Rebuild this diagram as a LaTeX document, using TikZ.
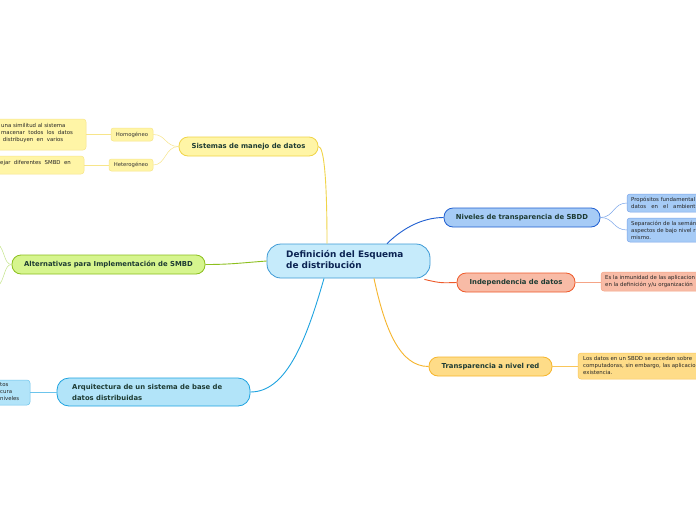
\documentclass[tikz,border=0pt]{standalone}
\usepackage{fontspec}
\setmainfont{DejaVu Sans}
\definecolor{txt}{HTML}{1D3B33}
\definecolor{navy}{HTML}{0B2352}
\definecolor{cenF}{HTML}{C6EBFB}\definecolor{cenD}{HTML}{3D9AD6}
\definecolor{yelF}{HTML}{FFF5A6}\definecolor{yelD}{HTML}{F0D448}\definecolor{yelL}{HTML}{F7E58A}
\definecolor{bluF}{HTML}{A6CBF6}\definecolor{bluD}{HTML}{1F5FD1}\definecolor{bluL}{HTML}{7AA5EA}
\definecolor{oraF}{HTML}{F8BBA6}\definecolor{oraD}{HTML}{EE5A2A}\definecolor{oraL}{HTML}{F5A486}
\definecolor{golF}{HTML}{FEDC88}\definecolor{golD}{HTML}{F6B52C}\definecolor{golL}{HTML}{F9C65A}
\definecolor{grnF}{HTML}{D6F58E}\definecolor{grnD}{HTML}{8CBF1E}\definecolor{grnL}{HTML}{C4E58A}
\definecolor{cyaF}{HTML}{B2E4F9}\definecolor{cyaD}{HTML}{1EA3E0}\definecolor{cyaL}{HTML}{6CC4EC}
\begin{document}
\begin{tikzpicture}[x=1pt,y=-1pt,
  branch/.style={draw, rounded corners=9pt, line width=0.8pt, inner sep=0pt, minimum height=19pt,
    font=\fontsize{6.85}{7.5}\selectfont\bfseries, text=txt},
  sub/.style={draw, rounded corners=2.5pt, line width=0.5pt, inner sep=0pt,
    font=\fontsize{5.3}{6}\selectfont, text=black!80},
  leaf/.style={draw, rounded corners=3pt, line width=0.5pt},
  ltext/.style={anchor=north west, inner sep=0pt, align=left,
    font=\fontsize{5.4}{7}\selectfont, text=black!85},
  conn/.style={line width=0.9pt},
  thin/.style={line width=0.5pt}]
\useasboundingbox (0,0) rectangle (696,520);
\clip (0,0) rectangle (696,520);
\fill[white] (0,0) rectangle (696,520);

% central
\node[draw=cenD, fill=cenF, line width=0.8pt, rounded corners=14pt, minimum width=163pt, minimum height=34pt, inner sep=0pt] (cen) at (348.5,261) {};
\node[anchor=north west, inner sep=0pt, align=left, font=\fontsize{8.9}{11}\selectfont\bfseries, text=navy] (centxt) at (286,250.5) {Definición del Esquema\\de distribución};

% branches
\node[branch, draw=yelD, fill=yelF, minimum width=139pt] (sis) at (248.5,146.5) {Sistemas de manejo de datos};
\node[branch, draw=bluD, fill=bluF, minimum width=156pt] (niv) at (522,217.5) {Niveles de transparencia de SBDD};
\node[branch, draw=oraD, fill=oraF, minimum width=118pt] (ind) at (516,282.5) {Independencia de datos};
\node[branch, draw=golD, fill=golF, minimum width=123pt] (tra) at (490.5,366.5) {Transparencia a nivel red};
\node[branch, draw=grnD, fill=grnF, minimum width=193pt] (alt) at (108.5,264.5) {Alternativas para Implementación de SMBD};
\node[branch, draw=cyaD, fill=cyaF, minimum width=193pt, minimum height=28pt, rounded corners=12pt] (arq) at (153.5,392) {};
\node[anchor=north west, inner sep=0pt, align=left, font=\fontsize{6.85}{11}\selectfont\bfseries, text=txt] (arqtxt) at (72,384) {Arquitectura de un sistema de base de\\datos distribuidas};

% sub nodes
\node[sub, draw=yelL, fill=yelF, minimum width=42pt, minimum height=13pt] (hom) at (132,134.5) {Homogéneo};
\node[sub, draw=yelL, fill=yelF, minimum width=44pt, minimum height=12pt] (het) at (131,165) {Heterogéneo};

% leaves
\draw[leaf, draw=yelL, fill=yelF] (-20,119) rectangle (86,150);
\node[ltext] (homtxt) at (1,123.5) {una similitud al sistema\\ macenar \ todos \ los \ datos\\ \ distribuyen \ en \ varios};
\coordinate (homL) at (86,134.5);
\draw[leaf, draw=yelL, fill=yelF] (-20,156) rectangle (84,174);
\node[ltext] (hettxt) at (0,160) {ejar \ diferentes \ SMBD \ en};
\coordinate (hetL) at (84,165);

\draw[leaf, draw=bluL, fill=bluF] (627,194) rectangle (720,212);
\node[ltext] (n1) at (631,197) {Propósitos fundamental\\datos \ \ en \ \ el \ \ ambient};
\coordinate (n1L) at (627,203);
\draw[leaf, draw=bluL, fill=bluF] (627,218) rectangle (720,242);
\node[ltext] (n2) at (631,221) {Separación de la semán\\aspectos de bajo nivel r\\mismo.};
\coordinate (n2L) at (627,230);

\draw[leaf, draw=oraL, fill=oraF] (601,272) rectangle (720,291);
\node[ltext] (i1) at (605,275.5) {Es la inmunidad de las aplicacion\\en la definición y/u organización};
\coordinate (i1L) at (601,282.5);

\draw[leaf, draw=golL, fill=golF] (578,353) rectangle (720,379);
\node[ltext] (t1) at (583,356.5) {Los datos en un SBDD se accedan sobre\\computadoras, sin embargo, las aplicacio\\existencia.};
\coordinate (t1L) at (578,366.5);

\draw[leaf, draw=cyaL, fill=cyaF] (-20,380) rectangle (30,405);
\node[ltext] (a1) at (0,383) {tos\\cura\\niveles};
\coordinate (a1R) at (30,392);

\coordinate (altA) at (-2,244);
\coordinate (altB) at (-2,286);

% connectors from central
\draw[conn, yelD] (sis.east) .. controls +(6,0) and +(0,-60) .. ([xshift=-21.5pt]cen.north);
\draw[conn, bluD] ([xshift=38.5pt]cen.north) .. controls (405,226) and (425,217.5) .. (niv.west);
\draw[conn, oraD] ([xshift=-6pt,yshift=-1pt]cen.south east) .. controls (440,283) .. (ind.west);
\draw[conn, golD] ([xshift=25.5pt]cen.south) .. controls (385,330) and (400,366.5) .. (tra.west);
\draw[conn, grnD] (cen.west) .. controls (240,263) and (230,264.5) .. (alt.east);
\draw[conn, cyaD] ([xshift=-24.5pt]cen.south) .. controls (305,345) and (285,392) .. (arq.east);

% connectors to sub / leaves
\draw[thin, yelL] (sis.west) .. controls (165,146.5) and (166,134.5) .. (hom.east);
\draw[thin, yelL] (sis.west) .. controls (165,146.5) and (166,165) .. (het.east);
\draw[thin, yelL] (hom.west) -- (homL);
\draw[thin, yelL] (het.west) -- (hetL);
\draw[thin, bluL] (niv.east) .. controls (614,217.5) and (613,203) .. (n1L);
\draw[thin, bluL] (niv.east) .. controls (614,217.5) and (613,230) .. (n2L);
\draw[thin, oraL] (ind.east) -- (i1L);
\draw[thin, golL] (tra.east) -- (t1L);
\draw[thin, grnL] (alt.west) .. controls (4,264.5) and (5,250) .. (altA);
\draw[thin, grnL] (alt.west) .. controls (4,264.5) and (5,280) .. (altB);
\draw[thin, cyaL] (arq.west) -- (a1R);
\end{tikzpicture}
\end{document}
